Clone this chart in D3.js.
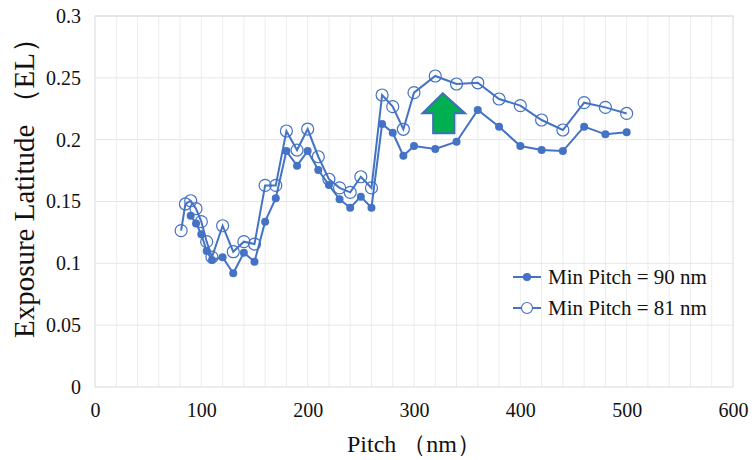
<!DOCTYPE html>
<html>
<head>
<meta charset="utf-8">
<script src="https://cdn.jsdelivr.net/npm/d3@7"></script>
<style>
  body { margin: 0; background: #fff; }
  text { font-family: "Liberation Serif", "Times New Roman", serif; fill: #111; }
</style>
</head>
<body>
<div id="chart"></div>
<script>
// data
const pitch90 = [90, 95, 100, 105, 110, 120, 130, 140, 150, 160, 170, 180, 190, 200, 210, 220, 230, 240, 250, 260,
    270, 280, 290, 300, 320, 340, 360, 380, 400, 420, 440, 460, 480, 500];
const el90 = [0.1385, 0.1323, 0.1235, 0.110, 0.1027, 0.105, 0.092, 0.1086, 0.1013, 0.1337, 0.1526, 0.1908, 0.179, 0.1908,
    0.1755, 0.1633, 0.1518, 0.145, 0.1539, 0.145, 0.2127, 0.2056, 0.187, 0.1949, 0.1924, 0.1983, 0.224, 0.2105, 0.1949,
    0.1916, 0.1908, 0.2105, 0.2043, 0.2059];

const pitch81 = [81, 85, 90, 95, 100, 105, 110, 120, 130, 140, 150, 160, 170, 180, 190, 200, 210, 220, 230, 240, 250, 260,
    270, 280, 290, 300, 320, 340, 360, 380, 400, 420, 440, 460, 480, 500];
const el81 = [0.1264, 0.148, 0.1506, 0.1442, 0.1337, 0.1175, 0.105, 0.1304, 0.1094, 0.1175, 0.1156, 0.163, 0.163, 0.207,
    0.1916, 0.2086, 0.1862, 0.168, 0.161, 0.1574, 0.170, 0.161, 0.2361, 0.2267, 0.2084, 0.238, 0.2515, 0.245, 0.246,
    0.2329, 0.2275, 0.2159, 0.2078, 0.2299, 0.2261, 0.2212];

const xTicks = [0, 100, 200, 300, 400, 500, 600];
const yTicks = [0, 0.05, 0.1, 0.15, 0.2, 0.25, 0.3];
const legendLabels = ['Min Pitch = 90 nm', 'Min Pitch = 81 nm'];

// arrow shape in data units (pitch, EL)
const arrowPts = [[327, 0.2375], [348, 0.2213], [338, 0.2213], [338, 0.2051], [318, 0.2051], [318, 0.2213], [308, 0.2213]];

const W = 754, H = 460;
const margin = {top: 16, right: 21, bottom: 73, left: 95};
const iw = W - margin.left - margin.right;
const ih = H - margin.top - margin.bottom;
const blue = '#4472C4';
const serif = '"Liberation Serif", "Times New Roman", serif';

const svg = d3.select('#chart').append('svg')
    .attr('width', W)
    .attr('height', H);

const g = svg.append('g').attr('transform', `translate(${margin.left},${margin.top})`);

const x = d3.scaleLinear().domain([0, 600]).range([0, iw]);
const y = d3.scaleLinear().domain([0, 0.3]).range([ih, 0]);

// gridlines
g.append('g')
    .selectAll('line')
    .data(d3.range(20, 600, 20))
    .enter().append('line')
    .attr('x1', d => x(d)).attr('x2', d => x(d))
    .attr('y1', 0).attr('y2', ih)
    .attr('stroke', '#ececec').attr('stroke-width', 1);

g.append('g')
    .selectAll('line')
    .data(yTicks.slice(1))
    .enter().append('line')
    .attr('x1', 0).attr('x2', iw)
    .attr('y1', d => y(d)).attr('y2', d => y(d))
    .attr('stroke', '#e6e6e6').attr('stroke-width', 1);

g.append('rect')
    .attr('width', iw).attr('height', ih)
    .attr('fill', 'none')
    .attr('stroke', '#d9d9d9');

// axes (labels only)
const xAxis = g.append('g')
    .attr('transform', `translate(0,${ih})`)
    .call(d3.axisBottom(x).tickValues(xTicks).tickSize(0).tickPadding(16).tickFormat(d3.format('d')));
const yAxis = g.append('g')
    .call(d3.axisLeft(y).tickValues(yTicks).tickSize(0).tickPadding(14).tickFormat(d => d === 0 ? '0' : String(+d.toFixed(2))));
[xAxis, yAxis].forEach(a => {
    a.attr('font-family', serif);
    a.select('.domain').remove();
    a.selectAll('text')
        .style('font-family', serif)
        .style('font-size', '20px')
        .attr('fill', '#111');
});

// titles
svg.append('text')
    .attr('x', margin.left + iw / 2)
    .attr('y', 452)
    .attr('text-anchor', 'middle')
    .style('font-family', serif)
    .style('font-size', '24px')
    .text('Pitch （nm）');

svg.append('text')
    .attr('transform', 'translate(34,181) rotate(-90)')
    .attr('text-anchor', 'middle')
    .style('font-family', serif)
    .style('font-size', '29px')
    .text('Exposure Latitude （EL）');

// series
const line = d3.line()
    .x(d => x(d[0]))
    .y(d => y(d[1]));

const s90 = pitch90.map((p, i) => [p, el90[i]]);
const s81 = pitch81.map((p, i) => [p, el81[i]]);

g.append('path')
    .attr('d', line(s81))
    .attr('fill', 'none').attr('stroke', blue).attr('stroke-width', 2);
g.append('path')
    .attr('d', line(s90))
    .attr('fill', 'none').attr('stroke', blue).attr('stroke-width', 2);

g.selectAll('.dot90')
    .data(s90)
    .enter().append('circle')
    .attr('class', 'dot90')
    .attr('cx', d => x(d[0])).attr('cy', d => y(d[1]))
    .attr('r', 4)
    .attr('fill', blue);

g.selectAll('.dot81')
    .data(s81)
    .enter().append('circle')
    .attr('class', 'dot81')
    .attr('cx', d => x(d[0])).attr('cy', d => y(d[1]))
    .attr('r', 6)
    .attr('fill', 'none')
    .attr('stroke', blue).attr('stroke-width', 1.2);

// green arrow
g.append('polygon')
    .attr('points', arrowPts.map(d => `${x(d[0])},${y(d[1])}`).join(' '))
    .attr('fill', '#00B050')
    .attr('stroke', '#3F6FB5')
    .attr('stroke-width', 2);

// legend
const legend = svg.selectAll('.legend')
    .data(legendLabels)
    .enter().append('g')
    .attr('class', 'legend')
    .attr('transform', (d, i) => `translate(513,${277 + i * 31})`);

legend.append('line')
    .attr('x1', 0).attr('x2', 28)
    .attr('stroke', blue).attr('stroke-width', 2);

legend.append('circle')
    .attr('cx', 14)
    .attr('r', (d, i) => i === 0 ? 3.5 : 5.5)
    .attr('fill', (d, i) => i === 0 ? blue : '#fff')
    .attr('stroke', blue).attr('stroke-width', 1.2);

legend.append('text')
    .attr('x', 35)
    .attr('dy', '0.35em')
    .style('font-family', serif)
    .style('font-size', '21px')
    .text(d => d);
</script>
</body>
</html>
